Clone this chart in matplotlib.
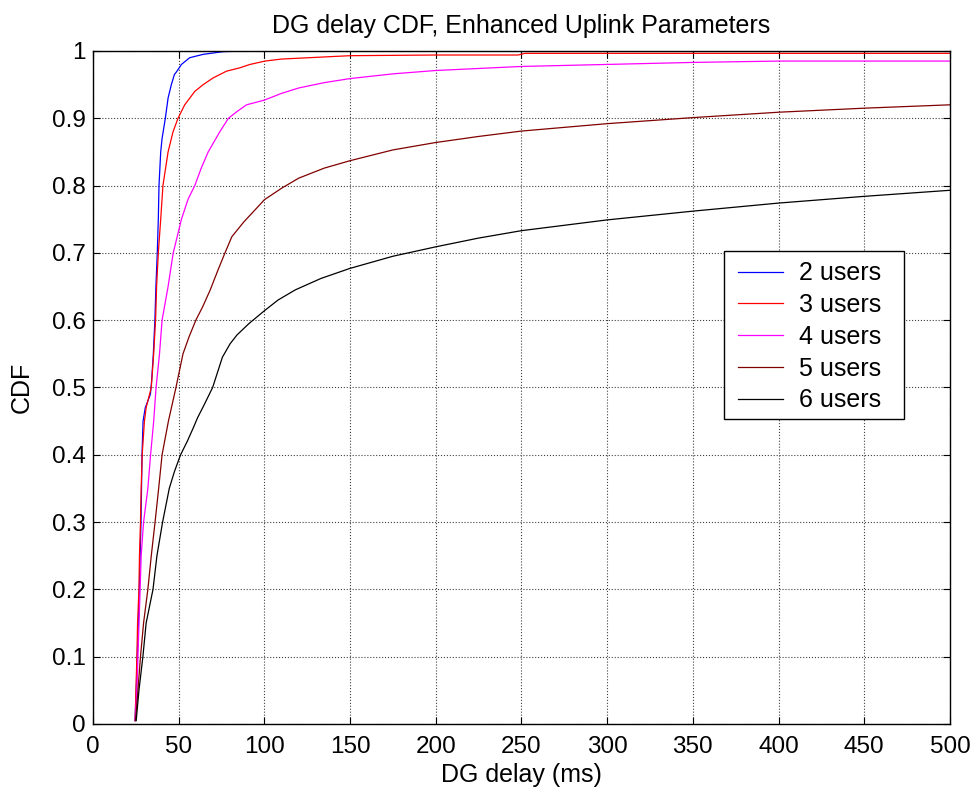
import matplotlib
matplotlib.use("Agg")
import matplotlib.pyplot as plt
from matplotlib.patches import Rectangle
import numpy as np

plt.rcParams['font.family'] = ['Liberation Sans', 'DejaVu Sans']

# ---- data ----
x_2 = [24.5, 25.2, 25.8, 26.5, 27.0, 27.5, 28.0, 28.6, 29.2, 30.5, 33.5, 34.2, 35.2, 36.1, 36.7,
       37.5, 38.1, 38.5, 39.5, 40.3, 42.2, 43.8, 45.7, 47.5, 49.0, 51.6, 56.4, 64.3, 76.0, 90.0, 500.0]
y_2 = [0.005, 0.05, 0.10, 0.15, 0.20, 0.25, 0.30, 0.40, 0.45, 0.47, 0.49, 0.51, 0.55, 0.60, 0.65,
       0.70, 0.75, 0.80, 0.85, 0.87, 0.90, 0.93, 0.95, 0.965, 0.97, 0.98, 0.99, 0.995, 0.999, 1.0, 1.0]

x_3 = [24.6, 24.8, 25.6, 26.0, 26.8, 27.1, 27.7, 28.1, 28.7, 30.0, 31.0, 34.0, 35.4, 36.5, 37.1,
       38.1, 39.5, 40.8, 43.8, 46.7, 49.6, 53.5, 59.4, 64.3, 70.1, 77.9, 85.7, 91.6, 100.4, 110.0,
       150.0, 200.0, 248.0, 252.0, 500.0]
y_3 = [0.005, 0.027, 0.10, 0.15, 0.20, 0.25, 0.30, 0.35, 0.40, 0.45, 0.47, 0.50, 0.55, 0.60, 0.65,
       0.70, 0.75, 0.80, 0.85, 0.88, 0.90, 0.92, 0.94, 0.95, 0.96, 0.97, 0.975, 0.98, 0.985, 0.988,
       0.993, 0.994, 0.994, 0.9965, 0.9965]

x_4 = [24.6, 25.6, 26.2, 27.5, 28.1, 29.5, 32.0, 33.6, 35.4, 36.8, 38.8, 40.3, 43.8, 46.8, 51.6,
       55.5, 59.4, 63.0, 67.2, 74.0, 79.0, 84.0, 89.6, 100.0, 110.0, 120.0, 135.0, 150.0, 175.0,
       200.0, 250.0, 300.0, 350.0, 400.0, 500.0]
y_4 = [0.005, 0.05, 0.10, 0.20, 0.25, 0.30, 0.35, 0.40, 0.45, 0.50, 0.55, 0.60, 0.65, 0.70, 0.75,
       0.78, 0.80, 0.825, 0.85, 0.88, 0.90, 0.91, 0.92, 0.927, 0.937, 0.945, 0.953, 0.959, 0.966,
       0.971, 0.977, 0.980, 0.983, 0.985, 0.985]

x_5 = [24.8, 25.6, 27.7, 29.5, 32.0, 34.0, 36.2, 38.3, 40.3, 44.0, 48.4, 52.5, 56.0, 60.0, 64.0,
       68.4, 73.0, 77.0, 81.0, 88.0, 96.4, 100.0, 110.0, 120.0, 135.0, 150.0, 175.0, 200.0, 225.0,
       250.0, 300.0, 350.0, 400.0, 450.0, 500.0]
y_5 = [0.005, 0.03, 0.10, 0.15, 0.20, 0.25, 0.30, 0.35, 0.40, 0.45, 0.50, 0.55, 0.575, 0.60, 0.62,
       0.645, 0.675, 0.70, 0.724, 0.746, 0.769, 0.779, 0.796, 0.811, 0.826, 0.837, 0.853, 0.864,
       0.873, 0.881, 0.892, 0.901, 0.909, 0.915, 0.920]

x_6 = [25.2, 26.8, 29.1, 31.0, 35.0, 37.3, 40.6, 44.5, 47.5, 51.1, 55.0, 58.5, 61.0, 65.0, 69.8,
       75.5, 80.0, 84.0, 91.0, 100.0, 108.0, 118.0, 133.0, 150.0, 175.0, 200.0, 225.0, 250.0,
       300.0, 350.0, 400.0, 450.0, 500.0]
y_6 = [0.005, 0.05, 0.10, 0.15, 0.20, 0.25, 0.30, 0.35, 0.375, 0.40, 0.42, 0.44, 0.455, 0.475, 0.50,
       0.545, 0.565, 0.578, 0.595, 0.614, 0.630, 0.645, 0.662, 0.677, 0.695, 0.709, 0.722, 0.733,
       0.749, 0.762, 0.774, 0.784, 0.793]

labels = ['2 users', '3 users', '4 users', '5 users', '6 users']
colors = ['#0000FF', '#FF0000', '#FF00FF', '#800000', '#000000']
xticks = list(range(0, 501, 50))
yticks = [0, 0.1, 0.2, 0.3, 0.4, 0.5, 0.6, 0.7, 0.8, 0.9, 1]
ytick_labels = ['0', '0.1', '0.2', '0.3', '0.4', '0.5', '0.6', '0.7', '0.8', '0.9', '1']

# ---- figure ----
fig = plt.figure(figsize=(9.76, 7.99), dpi=100)
ax = fig.add_axes([0.0953, 0.0939, 0.878, 0.8423])

series = [(x_2, y_2), (x_3, y_3), (x_4, y_4), (x_5, y_5), (x_6, y_6)]
for (xs, ys), lab, c in zip(series, labels, colors):
    ax.plot(xs, ys, color=c, lw=0.9, label=lab)

ax.set_xlim(0, 500)
ax.set_ylim(0, 1)
ax.set_xticks(xticks)
ax.set_yticks(yticks)
ax.set_yticklabels(ytick_labels)
ax.tick_params(direction='in', top=True, right=True, length=5, width=0.8,
               labelsize=17.5)
ax.tick_params(axis='x', pad=9)
ax.tick_params(axis='y', pad=5)
ax.grid(True, linestyle=':', color='0.25', linewidth=0.8)
for s in ax.spines.values():
    s.set_linewidth(1.0)
    s.set_color('black')

ax.set_title('DG delay CDF, Enhanced Uplink Parameters', fontsize=18, pad=13)
ax.set_xlabel('DG delay (ms)', fontsize=18, labelpad=3)
ax.set_ylabel('CDF', fontsize=18, labelpad=13.5)

# legend box (drawn as a frame) and legend entries
box = Rectangle((0.736, 0.453), 0.210, 0.250, transform=ax.transAxes,
                facecolor='white', edgecolor='black', linewidth=1.0, zorder=4.5,
                clip_on=False)
ax.add_patch(box)
leg = ax.legend(loc='upper left', bbox_to_anchor=(0.7525, 0.6875), fontsize=18,
                frameon=False, handlelength=1.8, handletextpad=0.65, borderpad=0.0,
                labelspacing=0.31, borderaxespad=0)
leg.set_zorder(5)

fig.savefig('out.png', dpi=100)
